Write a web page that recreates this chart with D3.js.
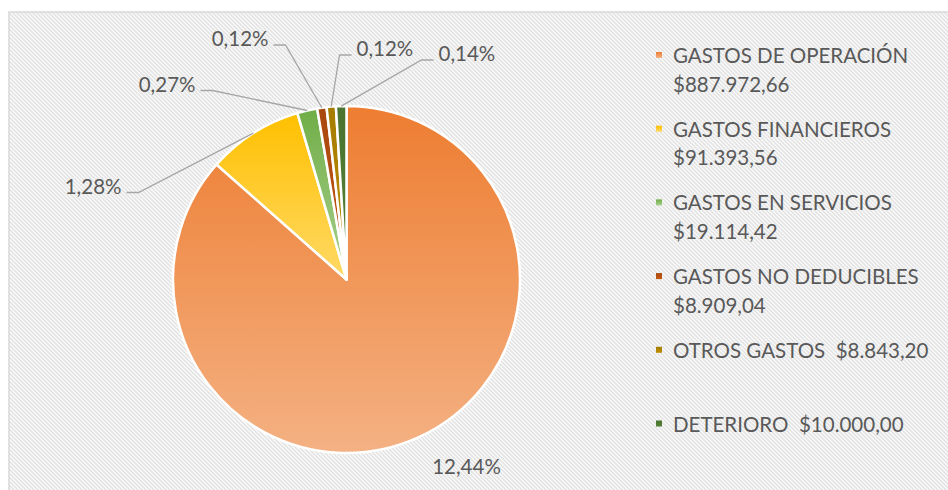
<!DOCTYPE html>
<html lang="es">
    <head>
        <meta charset="utf-8" />
        <title>Gastos</title>
        <style>
            body { margin: 0; background: #fff; }
            svg text {
                font-family: Lato, 'Open Sans', sans-serif;
                font-size: 20.5px;
                fill: #595959;
                white-space: pre;
            }
        </style>
        <script type="text/javascript" src="https://cdnjs.cloudflare.com/ajax/libs/d3/7.8.5/d3.min.js"></script>
    </head>
    <body>
        <script type="text/javascript">
            // data
            var categories = ['GASTOS DE OPERACIÓN', 'GASTOS FINANCIEROS', 'GASTOS EN SERVICIOS',
                              'GASTOS NO DEDUCIBLES', 'OTROS GASTOS', 'DETERIORO'];
            var values = [887972.66, 91393.56, 19114.42, 8909.04, 8843.20, 10000.00];
            var amountLabels = ['$887.972,66', '$91.393,56', '$19.114,42', '$8.909,04', '$8.843,20', '$10.000,00'];
            var pctLabels = ['12,44%', '1,28%', '0,27%', '0,12%', '0,12%', '0,14%'];

            // gradient colours, top -> bottom
            var colorTop = ['#ED7D31', '#FFC000', '#70AD47', '#A8470F', '#A67C00', '#4A7430'];
            var colorBottom = ['#F4B183', '#FFD966', '#A9D18E', '#C55A11', '#BF9000', '#548235'];

            var width = 948,
                height = 490,
                cx = 346.5,
                cy = 279.5,
                radius = 173.5;

            // where each data label sits, relative to the pie centre
            // [dx, dy] = end of leader line next to the text, side = which way the text runs
            var labelLayout = [
                { dx: 120, dy: 193, side: 0 },
                { dx: -220, dy: -87, side: -1 },
                { dx: -146, dy: -189, side: -1 },
                { dx: -73, dy: -234.5, side: -1 },
                { dx: 5, dy: -224.5, side: 1 },
                { dx: 87, dy: -219.5, side: 1 }
            ];

            var svg = d3.select('body')
                        .append('svg')
                        .attr('width', width)
                        .attr('height', height);

            var defs = svg.append('defs');

            // hatched chart background
            var pat = defs.append('pattern')
                .attr('id', 'hatch')
                .attr('patternUnits', 'userSpaceOnUse')
                .attr('width', 4)
                .attr('height', 4);
            pat.append('rect').attr('width', 4).attr('height', 4).attr('fill', '#fff');
            pat.append('path')
                .attr('d', 'M-1,-1 L5,5 M-1,3 L1,5 M3,-1 L5,1')
                .attr('stroke', '#e3e3e3')
                .attr('stroke-width', 1.6);

            categories.forEach(function(c, i) {
                var g = defs.append('linearGradient')
                    .attr('id', 'grad' + i)
                    .attr('x1', 0).attr('y1', 0)
                    .attr('x2', 0).attr('y2', 1);
                g.append('stop').attr('offset', '0%').attr('stop-color', colorTop[i]);
                g.append('stop').attr('offset', '100%').attr('stop-color', colorBottom[i]);
            });

            svg.append('rect')
                .attr('x', 9)
                .attr('y', 12)
                .attr('width', width + 20)
                .attr('height', height + 20)
                .attr('fill', 'url(#hatch)')
                .attr('stroke', '#d9d9d9')
                .attr('stroke-width', 1.5);

            var pie = d3.pie().sort(null).value(function(d) { return d; });
            var arcs = pie(values);

            var arc = d3.arc().innerRadius(0).outerRadius(radius);

            var chart = svg.append('g')
                .attr('transform', 'translate(' + cx + ',' + cy + ')');

            chart.selectAll('path.slice')
                .data(arcs)
                .enter()
                .append('path')
                .attr('class', 'slice')
                .attr('d', arc)
                .attr('fill', function(d) { return 'url(#grad' + d.index + ')'; })
                .attr('stroke', '#fff')
                .attr('stroke-width', 2.5)
                .attr('stroke-linejoin', 'round');

            // leader lines: from the middle of the slice rim to the label
            var labels = chart.selectAll('g.label')
                .data(arcs)
                .enter()
                .append('g')
                .attr('class', 'label');

            labels.filter(function(d) { return labelLayout[d.index].side !== 0; })
                .append('polyline')
                .attr('fill', 'none')
                .attr('stroke', '#a6a6a6')
                .attr('stroke-width', 1.3)
                .attr('points', function(d) {
                    var a = (d.startAngle + d.endAngle) / 2;
                    var p0 = [radius * Math.sin(a), -radius * Math.cos(a)];
                    var L = labelLayout[d.index];
                    var elbow = [L.dx - L.side * 12, L.dy];
                    return [p0, elbow, [L.dx, L.dy]].map(function(p) { return p.join(','); }).join(' ');
                });

            labels.append('text')
                .attr('x', function(d) {
                    var L = labelLayout[d.index];
                    return L.dx + L.side * 5;
                })
                .attr('y', function(d) { return labelLayout[d.index].dy + 1; })
                .attr('text-anchor', function(d) {
                    var s = labelLayout[d.index].side;
                    return s === 0 ? 'middle' : (s < 0 ? 'end' : 'start');
                })
                .text(function(d) { return pctLabels[d.index]; });

            // legend
            var legendX = 673,
                legendTop = 63,
                legendStep = 73.7,
                lineHeight = 28.5,
                maxWidth = 265;

            var legend = svg.append('g');

            var item = legend.selectAll('g')
                .data(categories)
                .enter()
                .append('g')
                .attr('transform', function(d, i) {
                    return 'translate(' + legendX + ',' + (legendTop + i * legendStep) + ')';
                });

            item.append('rect')
                .attr('x', -17)
                .attr('y', -11)
                .attr('width', 6)
                .attr('height', 6)
                .attr('fill', function(d, i) { return 'url(#grad' + i + ')'; });

            item.each(function(d, i) {
                var g = d3.select(this);
                var t = g.append('text').text(d + '  ' + amountLabels[i]);
                if (t.node().getComputedTextLength() > maxWidth) {
                    t.text(d);
                    g.append('text').attr('y', lineHeight).text(amountLabels[i]);
                }
            });
        </script>
    </body>
</html>
